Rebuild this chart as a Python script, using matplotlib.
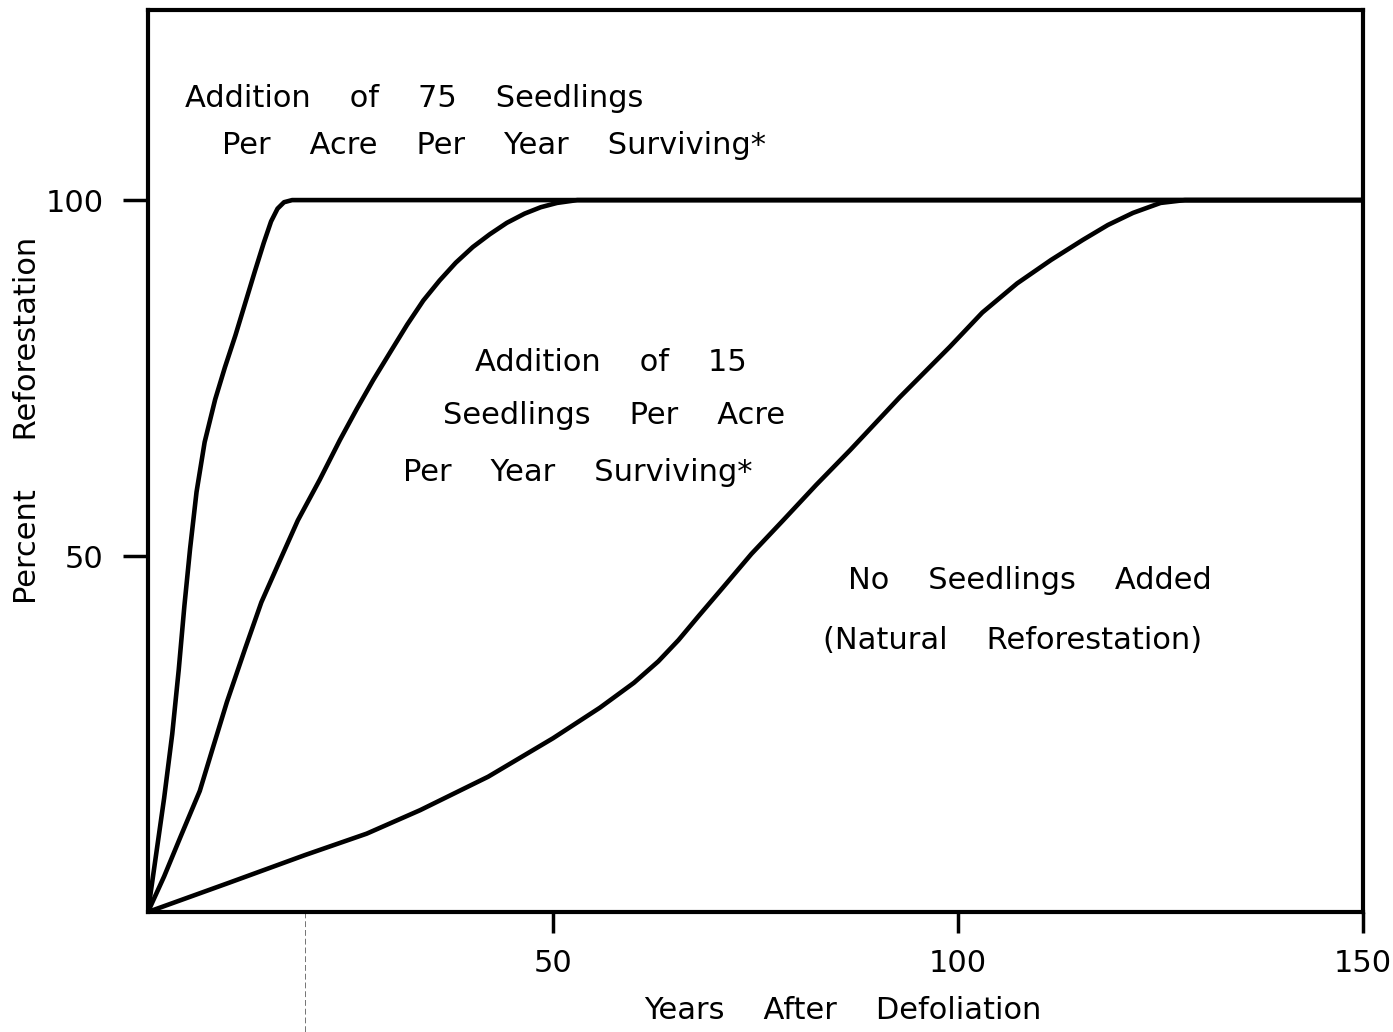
import matplotlib as mpl
import matplotlib.pyplot as plt

mpl.use('Agg')

# curvas (anos, % reflorestamento)
anos_75 = [0, 1, 2, 3, 3.8, 4.5, 5.2, 6.0, 7.0, 8.3, 9.5, 10.8, 12.0, 13.2,
           14.3, 15.2, 16.0, 16.8, 17.8, 150]
perc_75 = [0, 8, 16, 25, 34, 43, 51, 59, 66, 72, 76.5, 81, 85.5, 90,
           94, 97, 98.8, 99.7, 100, 100]

anos_15 = [0, 2, 4, 6.4, 8, 9.75, 12, 14, 16.3, 18.5, 21.2, 23.7, 25.8, 27.8,
           30, 32, 34, 36, 38, 40.1, 42.2, 44.3, 46.5, 48.5, 50.5, 53, 150]
perc_15 = [0, 5, 10.5, 17, 23, 29.5, 37, 43.5, 49.4, 55, 60.7, 66.3, 70.7, 74.7,
           78.8, 82.5, 85.9, 88.7, 91.2, 93.4, 95.2, 96.8, 98.1, 99.0, 99.6, 100, 100]

anos_nat = [0, 10, 19.4, 27, 33.6, 42, 50, 55.8, 60, 63, 65.5, 68, 71, 74.5,
            78.4, 82.5, 86.7, 92.8, 99, 103, 107.3, 111.5, 115.4, 118.5, 121.6,
            125, 128, 150]
perc_nat = [0, 4.1, 8, 11, 14.3, 19, 24.4, 28.7, 32.2, 35.2, 38.2, 41.6, 45.6, 50.3,
            55, 60, 64.9, 72.3, 79.4, 84.2, 88.3, 91.6, 94.4, 96.5, 98.2,
            99.6, 100, 100]

xticks = [50, 100, 150]
yticks = [50, 100]
guia_x = 19.4  # linha tracejada fraca do original

fonte = 'DejaVu Sans'
fs = 22

fig = plt.figure(figsize=(13.93, 10.32), dpi=100)
ax = fig.add_axes([0.1062, 0.1163, 0.8723, 0.874])

for xs, ys in [(anos_75, perc_75), (anos_15, perc_15), (anos_nat, perc_nat)]:
    ax.plot(xs, ys, color='black', lw=3.3, solid_capstyle='round',
            solid_joinstyle='round')

ax.set_xlim(0, 150)
ax.set_ylim(0, 126.7)

for s in ax.spines.values():
    s.set_linewidth(3.0)

ax.set_xticks(xticks)
ax.set_xticklabels(['50', '100', '150'], fontsize=fs, family=fonte)
ax.set_yticks(yticks)
ax.set_yticklabels(['50', '100'], fontsize=fs, family=fonte)
ax.tick_params(axis='x', direction='out', length=15, width=2.5, pad=12)
ax.tick_params(axis='y', direction='out', length=18, width=2.5, pad=14)

ax.set_xlabel('Years    After    Defoliation', fontsize=fs, family=fonte)
ax.xaxis.set_label_coords(0.572, -0.093)
ax.set_ylabel('Percent     Reforestation', fontsize=fs, family=fonte)
ax.yaxis.set_label_coords(-0.087, 0.545)

ax.plot([guia_x, guia_x], [0, -17], color='0.45', lw=0.7, ls=(0, (6, 3)),
        clip_on=False)

kw = dict(fontsize=fs, family=fonte, ha='left', va='center')
ax.text(4.6, 114.3, 'Addition    of    75    Seedlings', **kw)
ax.text(9.1, 107.7, 'Per    Acre    Per    Year    Surviving*', **kw)
ax.text(40.4, 77.2, 'Addition    of    15', **kw)
ax.text(36.4, 69.8, 'Seedlings    Per    Acre', **kw)
ax.text(31.5, 61.7, 'Per    Year    Surviving*', **kw)
ax.text(86.4, 46.5, 'No    Seedlings    Added', **kw)
ax.text(83.3, 38.2, '(Natural    Reforestation)', **kw)

fig.savefig('out.png', dpi=100)
